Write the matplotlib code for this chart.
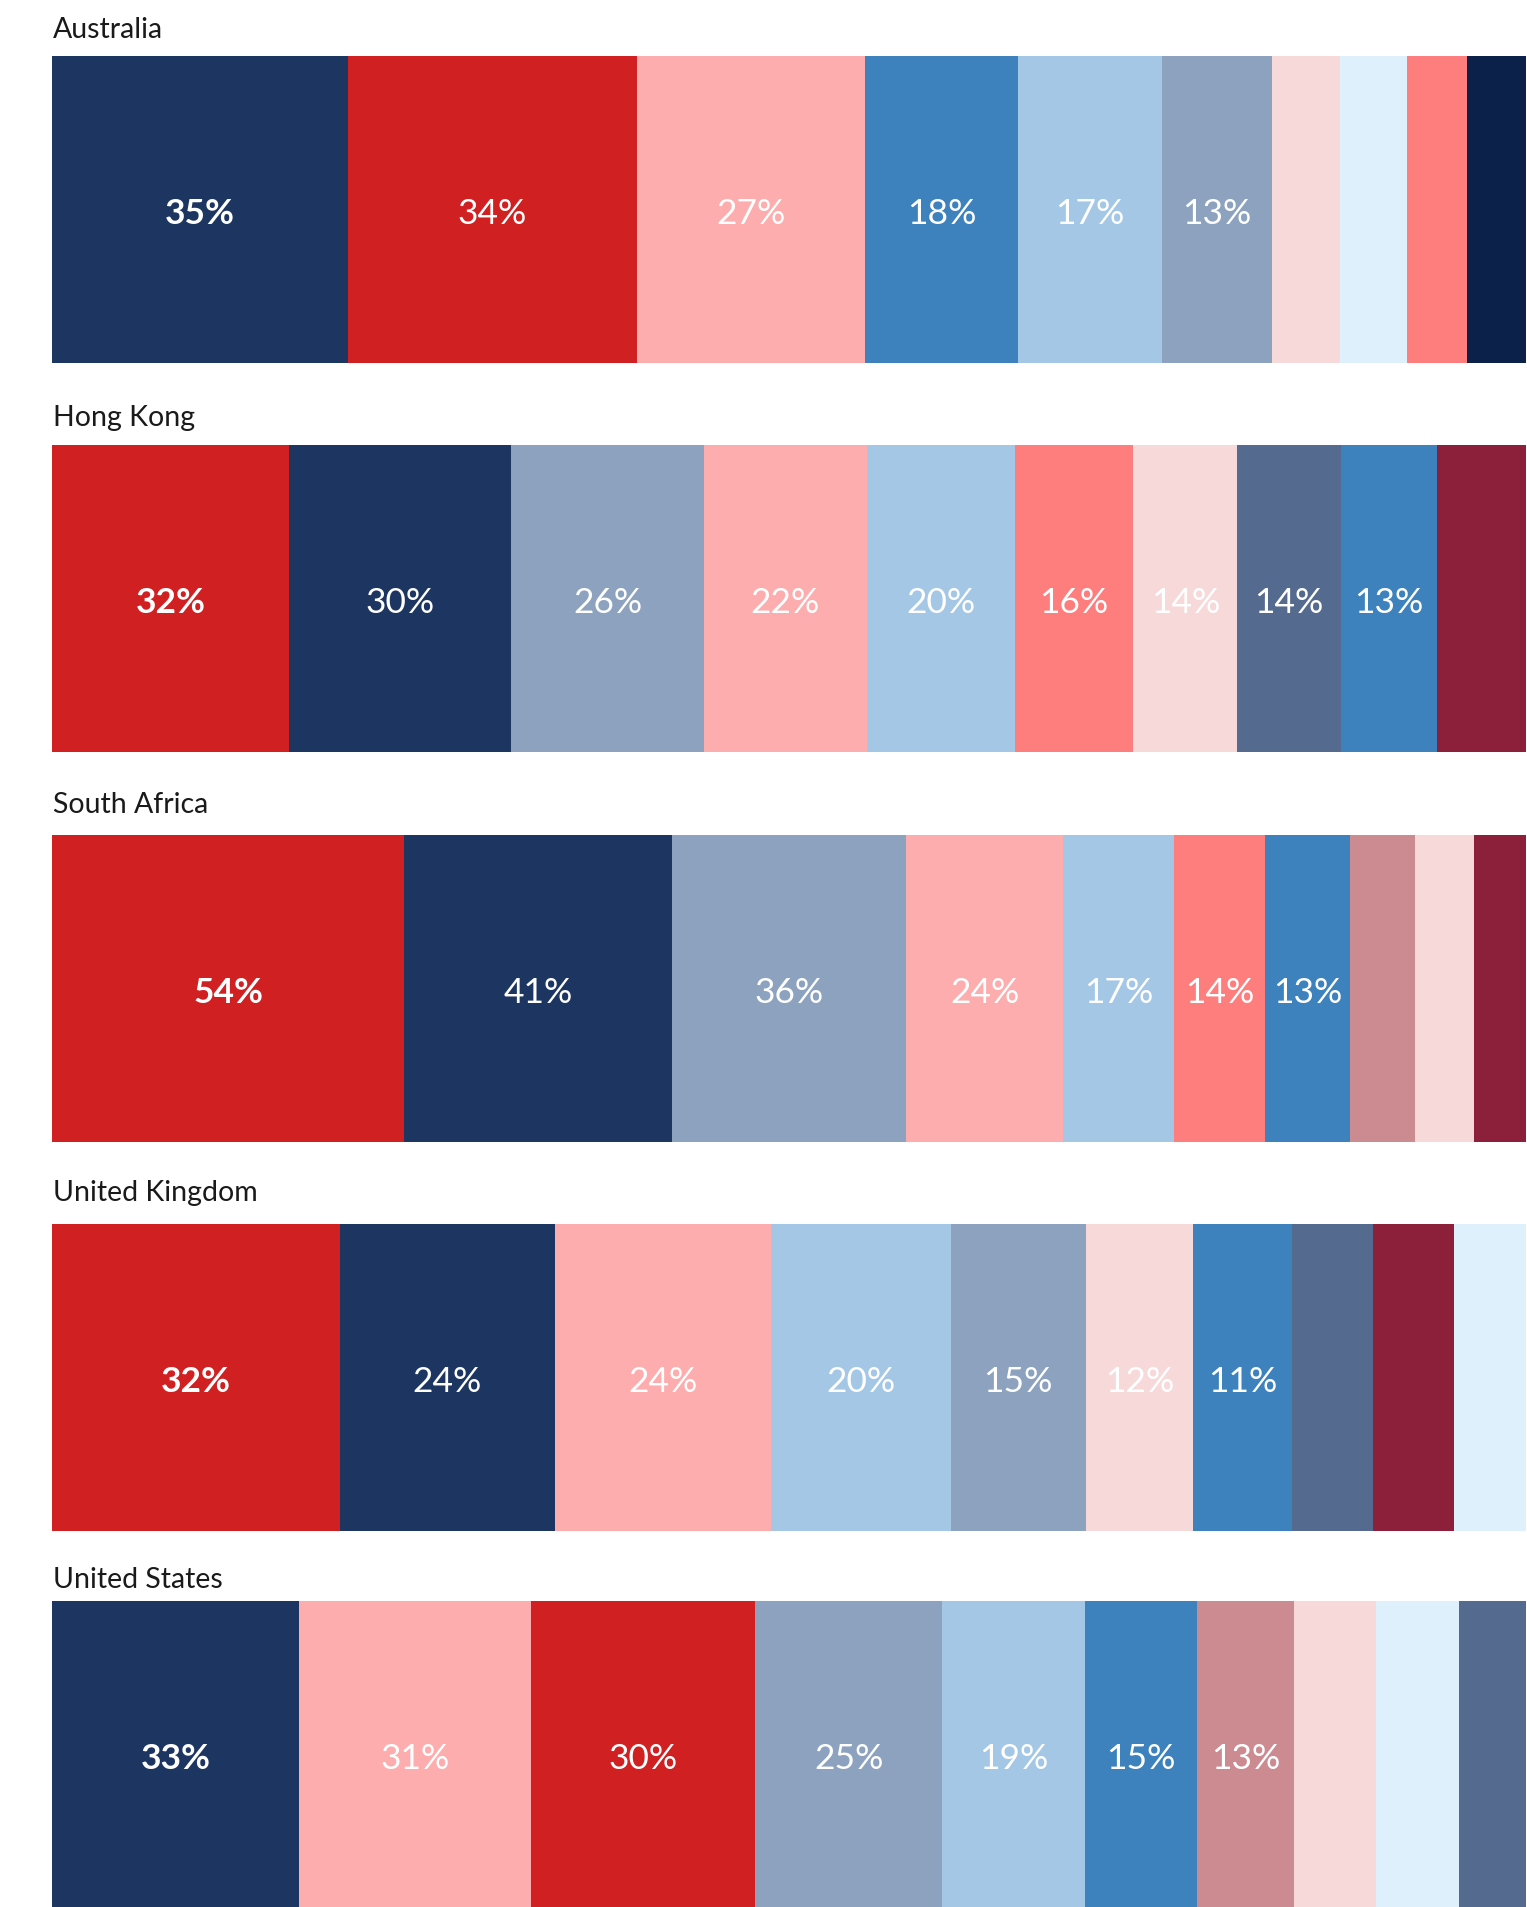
import matplotlib.pyplot as plt

countries = ["Australia", "Hong Kong", "South Africa", "United Kingdom", "United States"]

australia = [35, 34, 27, 18, 17, 13, 8, 8, 7, 7]
hong_kong = [32, 30, 26, 22, 20, 16, 14, 14, 13, 12]
south_africa = [54, 41, 36, 24, 17, 14, 13, 10, 9, 8]
united_kingdom = [32, 24, 24, 20, 15, 12, 11, 9, 9, 8]
united_states = [33, 31, 30, 25, 19, 15, 13, 11, 11, 9]
n_labeled = [6, 9, 7, 7, 7]

NAVY = "#1d3561"
RED = "#d02022"
PINK = "#fdadad"
BLUE = "#3d82bc"
LIGHT_BLUE = "#a4c7e6"
GREY_BLUE = "#8ca2be"
LIGHT_PINK = "#f7d9da"
PALE_BLUE = "#dff0fd"
SALMON = "#fe7d7d"
DARK_NAVY = "#0b2149"
STEEL = "#556a8f"
MAROON = "#8c203a"
ROSE = "#cc8b91"

row_colors = [
    [NAVY, RED, PINK, BLUE, LIGHT_BLUE, GREY_BLUE, LIGHT_PINK, PALE_BLUE, SALMON, DARK_NAVY],
    [RED, NAVY, GREY_BLUE, PINK, LIGHT_BLUE, SALMON, LIGHT_PINK, STEEL, BLUE, MAROON],
    [RED, NAVY, GREY_BLUE, PINK, LIGHT_BLUE, SALMON, BLUE, ROSE, LIGHT_PINK, MAROON],
    [RED, NAVY, PINK, LIGHT_BLUE, GREY_BLUE, LIGHT_PINK, BLUE, STEEL, MAROON, PALE_BLUE],
    [NAVY, PINK, RED, GREY_BLUE, LIGHT_BLUE, BLUE, ROSE, LIGHT_PINK, PALE_BLUE, STEEL],
]
rows = [australia, hong_kong, south_africa, united_kingdom, united_states]

W, H = 1527, 1908
fig = plt.figure(figsize=(W / 100, H / 100), dpi=100)
plt.rcParams["font.family"] = ["Lato", "DejaVu Sans"]

bar_tops = [57, 446, 836, 1225, 1602]
title_ys = [30, 418, 805, 1193, 1580]
bar_h = 307
left, right = 52, 1526

for name, values, colors, top, ty, nl in zip(countries, rows, row_colors, bar_tops, title_ys, n_labeled):
    fig.text(53 / W, 1 - ty / H, name, fontsize=20.5, color="#1a1a1a",
             fontweight="normal", va="center", ha="left")
    ax = fig.add_axes([left / W, 1 - (top + bar_h) / H, (right - left) / W, bar_h / H])
    total = sum(values)
    start = 0
    for i, (v, c) in enumerate(zip(values, colors)):
        ax.barh(0, v, left=start, height=1, color=c, linewidth=0)
        if i < nl:
            ax.text(start + v / 2, -0.012, f"{v}%", ha="center", va="center",
                    color="white", fontsize=25.5,
                    fontweight="bold" if i == 0 else "normal")
        start += v
    ax.set_xlim(0, total)
    ax.set_ylim(-0.5, 0.5)
    ax.axis("off")

fig.savefig("out.png", dpi=100)
